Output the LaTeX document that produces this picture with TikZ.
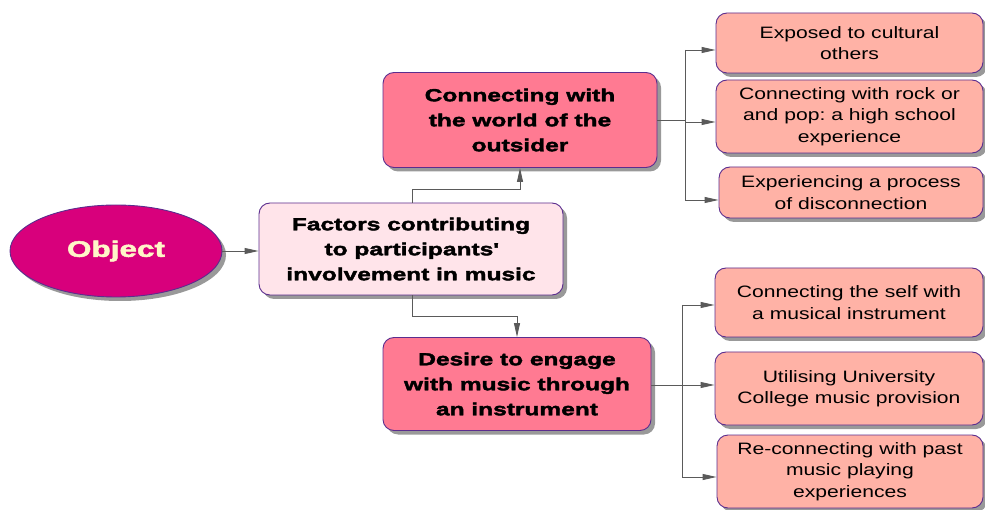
\documentclass[tikz,border=0pt]{standalone}
\usepackage{fontspec}
\setmainfont{Liberation Sans}
\newfontfamily\heavyfont[FakeStretch=1.4,FakeBold=2.2]{Liberation Sans Bold}
\newfontfamily\widefont[FakeStretch=1.28]{Liberation Sans}
\usetikzlibrary{shapes.geometric,shadows,arrows.meta}
\definecolor{objfill}{HTML}{D8007C}
\definecolor{objtext}{HTML}{FFF6C8}
\definecolor{facfill}{HTML}{FFE4EA}
\definecolor{midfill}{HTML}{FF7A92}
\definecolor{leaffill}{HTML}{FFB2A6}
\definecolor{edge}{HTML}{5B2D8E}
\definecolor{wire}{HTML}{5A5A5A}
\tikzset{
  shade/.style={drop shadow={shadow xshift=4pt,shadow yshift=-4pt,fill=black!40,opacity=1}},
  objnode/.style={ellipse,draw=edge,line width=0.9pt,fill=objfill,shade,
    minimum width=212pt,minimum height=92pt,text=objtext,
    font=\heavyfont\fontsize{22.5}{26}\selectfont},
  boxbase/.style={rectangle,rounded corners=11pt,draw=edge,line width=0.9pt,shade,
    align=center,inner sep=2pt},
  facnode/.style={boxbase,fill=facfill,font=\heavyfont\fontsize{17.5}{25}\selectfont},
  midnode/.style={boxbase,fill=midfill,font=\heavyfont\fontsize{17.5}{25}\selectfont},
  leafnode/.style={boxbase,fill=leaffill,font=\widefont\fontsize{16.5}{21.5}\selectfont},
  arr/.style={draw=wire,line width=0.9pt,-{Triangle[length=14pt,width=6pt]}},
  wireline/.style={draw=wire,line width=0.9pt}
}
\begin{document}
\frenchspacing
\begin{tikzpicture}[x=1pt,y=-1pt]
\useasboundingbox (0,0) rectangle (985,510);

% main nodes
\node[objnode] (obj) at (116,251) {Object};
\node[facnode,minimum width=304pt,minimum height=92pt] (fac) at (411,249)
  {Factors contributing\\to participants\textquotesingle\\involvement in music};
\node[midnode,minimum width=274pt,minimum height=95pt] (con) at (520,120)
  {Connecting with\\the world of the\\outsider};
\node[midnode,minimum width=268pt,minimum height=93pt] (des) at (517,384)
  {Desire to engage\\with music through\\an instrument};

% upper leaves
\node[leafnode,minimum width=267pt,minimum height=60pt] (e1) at (849.5,43)
  {Exposed to cultural\\others};
\node[leafnode,minimum width=267pt,minimum height=73pt] (e2) at (849.5,116.5)
  {Connecting with rock or\\and pop: a high school\\experience};
\node[leafnode,minimum width=264pt,minimum height=51pt] (e3) at (851,192.5)
  {Experiencing a process\\of disconnection};

% lower leaves
\node[leafnode,minimum width=268pt,minimum height=69pt] (d1) at (849,302.5)
  {Connecting the self with\\a musical instrument};
\node[leafnode,minimum width=268pt,minimum height=73pt] (d2) at (849,388.5)
  {Utilising University\\College music provision};
\node[leafnode,minimum width=266pt,minimum height=73pt] (d3) at (850,471.5)
  {Re-connecting with past\\music playing\\experiences};

% connectors
\draw[arr] (obj.east) -- (fac.west |- obj.east);

\coordinate (j1) at (412,189);
\draw[arr] (fac.north -| j1) -- (j1) -| (con.south);
\coordinate (j2) at (412,316);
\draw[arr] (fac.south -| j2) -- (j2) -| (des.north);

% upper fan
\coordinate (u1) at (685,50);
\coordinate (u2) at (685,122);
\coordinate (u3) at (685,200);
\draw[wireline] (con.east) -- (con.east -| u1);
\draw[wireline] (u1) -- (u3);
\draw[arr] (u1) -- (u1 -| e1.west);
\draw[arr] (u2) -- (u2 -| e2.west);
\draw[arr] (u3) -- (u3 -| e3.west);

% lower fan
\coordinate (l1) at (682,305);
\coordinate (l2) at (682,385);
\coordinate (l3) at (682,477);
\draw[wireline] (des.east |- l2) -- (l2);
\draw[wireline] (l1) -- (l3);
\draw[arr] (l1) -- (l1 -| d1.west);
\draw[arr] (l2) -- (l2 -| d2.west);
\draw[arr] (l3) -- (l3 -| d3.west);
\end{tikzpicture}
\end{document}
